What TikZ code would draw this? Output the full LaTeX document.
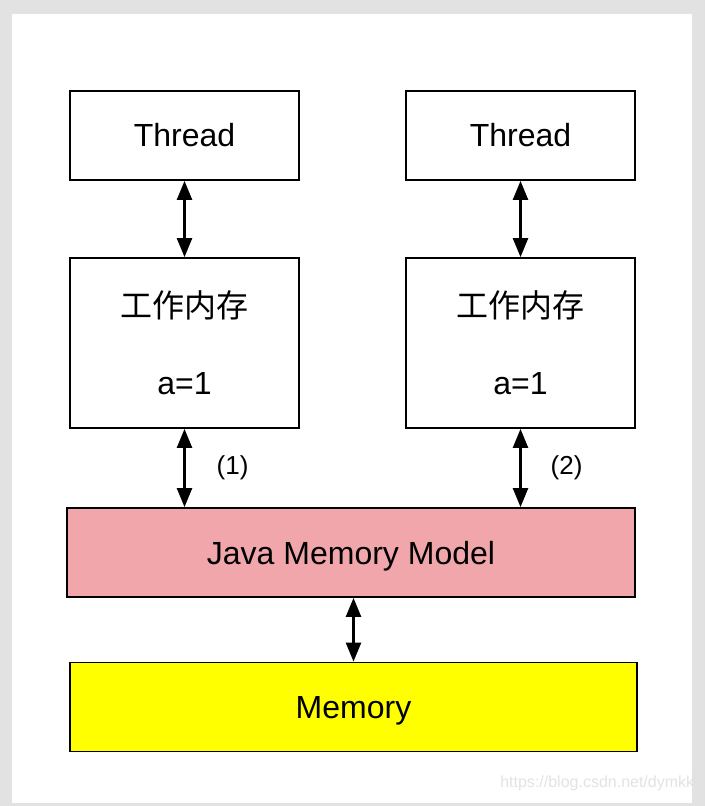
\documentclass[tikz,border=0pt]{standalone}
\usepackage{fontspec}
\setmainfont{Liberation Sans}
\newfontfamily\cjk{Noto Sans CJK SC}
\usepackage{tikz}
\usetikzlibrary{arrows.meta,positioning}
\definecolor{jmmpink}{HTML}{F0A6AB}
\definecolor{memyellow}{HTML}{FFFF00}
\definecolor{framegray}{HTML}{E2E2E2}
\tikzset{
	jmm diagram/.style={
		x=1pt, y=-1pt,
		box/.style={draw, line width=1.8pt, inner sep=0pt,
			minimum width=229pt, font=\fontsize{32}{38}\selectfont},
		thread/.style={box, minimum height=89pt},
		workmem/.style={box, minimum height=170pt, align=center,
			font=\fontsize{32}{77}\selectfont},
		wide/.style={box, minimum width=568pt, minimum height=89pt, text depth=0pt},
		ar/.style={line width=2.4pt, {Triangle[length=19pt,width=15pt]}-{Triangle[length=19pt,width=15pt]}},
		tag/.style={inner sep=0pt, font=\fontsize{26}{30}\selectfont}
	}
}

\begin{document}
\begin{tikzpicture}[jmm diagram]
   \useasboundingbox (0,0) rectangle (705,806);
   \fill[framegray] (0,0) rectangle (705,806);
   \fill[white] (12,14) rectangle (692,803);

   \node[thread] (T1) at (184.5,135.5) {Thread};
   \node[thread] (T2) at (520.5,135.5) {Thread};
   \node[workmem] (W1) at (184.5,343) {{\cjk 工作内存}\\a=1};
   \node[workmem] (W2) at (520.5,343) {{\cjk 工作内存}\\a=1};
   \node[wide, fill=jmmpink] (JMM) at (351,552.5) {Java Memory Model};
   \node[wide, fill=memyellow, minimum width=567pt] (Mem) at (353.5,707) {Memory};

   \draw[ar] (T1) -- (W1);
   \draw[ar] (T2) -- (W2);
   \draw[ar] (W1.south) -- (W1.south |- JMM.north)
      node[tag, midway, right=31pt] {(1)};
   \draw[ar] (W2.south) -- (W2.south |- JMM.north)
      node[tag, midway, right=29pt] {(2)};
   \draw[ar] (Mem.north |- JMM.south) -- (Mem.north);

   \node[text=gray!22, font=\fontsize{16}{18}\selectfont] (wm) at (599,783)
      {https://blog.csdn.net/dymkkj};
\end{tikzpicture}
\end{document}
